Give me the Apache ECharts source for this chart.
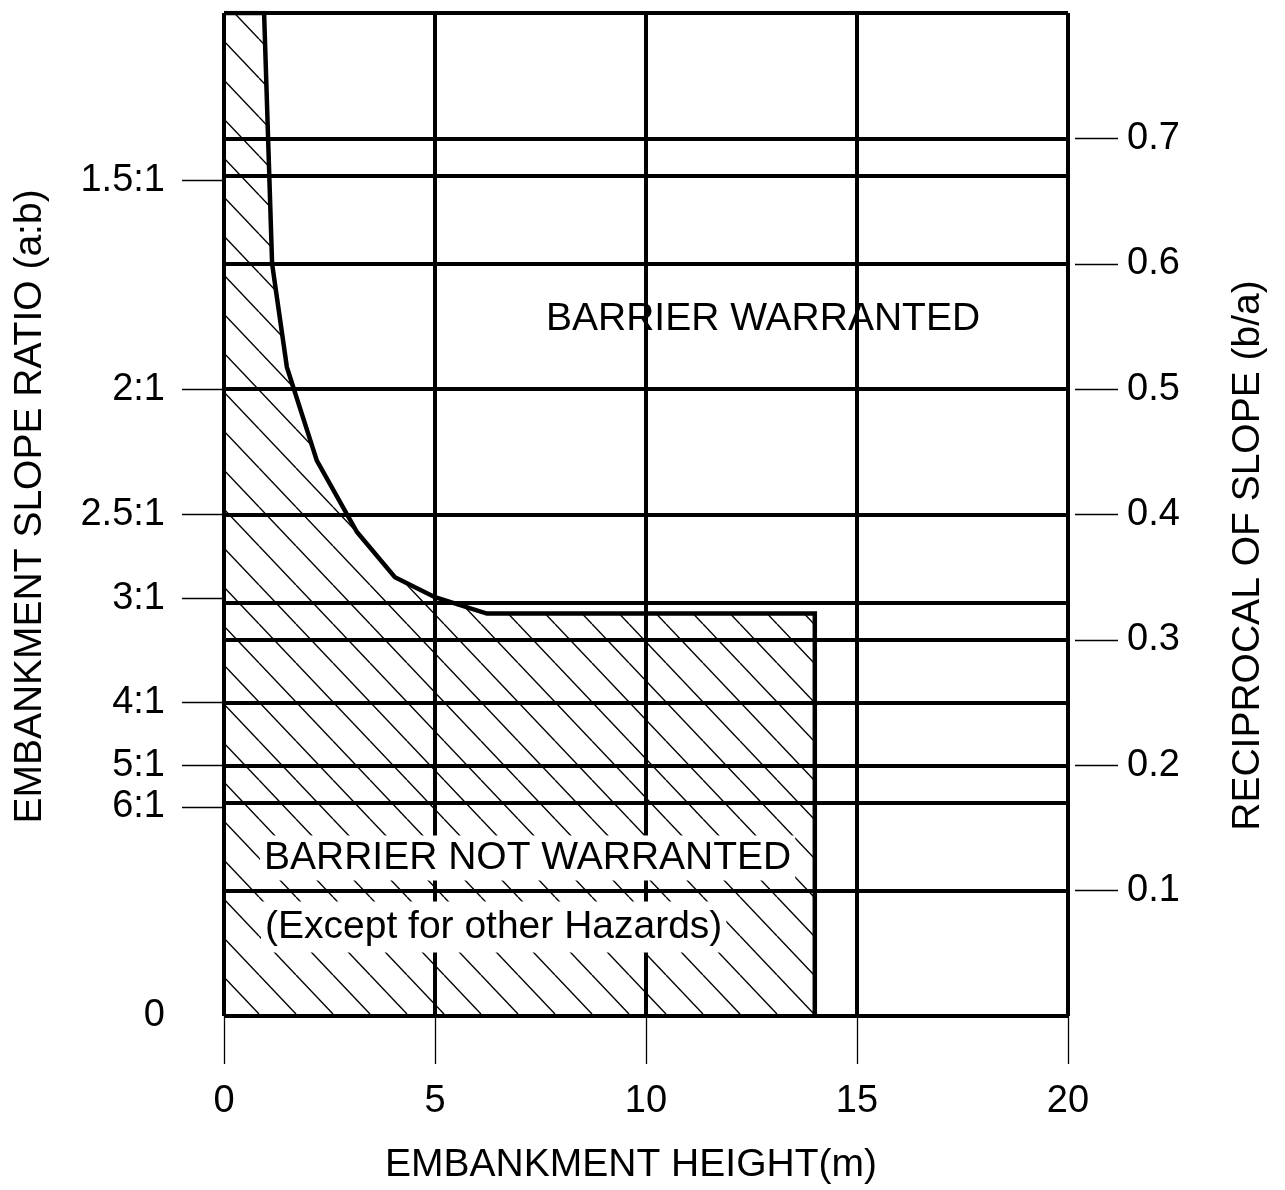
<!DOCTYPE html>
<html>
<head>
<meta charset="utf-8">
<script src="https://cdn.jsdelivr.net/npm/echarts@6/dist/echarts.min.js"></script>
<style>
html,body{margin:0;padding:0;background:#fff;}
#chart{width:1285px;height:1190px;}
</style>
</head>
<body>
<div id="chart"></div>
<script>
// ---- data ----
const heightTicks = [0, 5, 10, 15, 20];
const slopeRatioLabels = ['0', '6:1', '5:1', '4:1', '3:1', '2.5:1', '2:1', '1.5:1'];
const slopeRatioValues = [0, 0.1667, 0.2, 0.25, 0.3333, 0.4, 0.5, 0.6667];
const reciprocalTicks = [0.1, 0.2, 0.3, 0.4, 0.5, 0.6, 0.7];
// boundary of the "not warranted" zone (embankment height m, reciprocal of slope b/a)
const boundaryHeight = [0, 0.95, 1.14, 1.49, 2.2, 3.15, 4.05, 5.0, 6.23, 14, 14];
const boundaryRecip  = [0.8, 0.8, 0.6, 0.5175, 0.443, 0.386, 0.35, 0.334, 0.321, 0.321, 0];
const regionLabels = ['BARRIER WARRANTED', 'BARRIER NOT WARRANTED', '(Except for other Hazards)'];

const FONT = '"Liberation Sans", Arial, Helvetica, sans-serif';

// hatch pattern
function makeHatch() {
  const W = 37, H = 39;
  const c = document.createElement('canvas');
  c.width = W; c.height = H;
  const ctx = c.getContext('2d');
  ctx.strokeStyle = '#000';
  ctx.lineWidth = 1.4;
  for (const dx of [-W, 0, W]) {
    ctx.beginPath();
    ctx.moveTo(dx, 0);
    ctx.lineTo(dx + W, H);
    ctx.stroke();
  }
  return c;
}

const chart = echarts.init(document.getElementById('chart'), null, {renderer: 'canvas'});

const boundaryData = boundaryHeight.map((h, i) => [h, boundaryRecip[i]]);

function slopeLabel(v) {
  for (let i = 0; i < slopeRatioValues.length; i++) {
    if (Math.abs(slopeRatioValues[i] - v) < 1e-3) return slopeRatioLabels[i];
  }
  return '';
}

const tickLine = {color: '#000', width: 1.3};
const labelStyle = {fontSize: 38, color: '#000', fontFamily: FONT};
const gridLine = {color: '#000', width: 4};

const option = {
  animation: false,
  backgroundColor: '#fff',
  grid: {left: 224, right: 217, top: 13, bottom: 174},
  xAxis: {
    type: 'value', min: 0, max: 20, interval: 5,
    offset: 9,
    axisLine: {show: false},
    axisTick: {show: true, length: 48, lineStyle: tickLine},
    axisLabel: Object.assign({margin: 58}, labelStyle),
    splitLine: {show: true, lineStyle: gridLine},
    name: 'EMBANKMENT HEIGHT(m)',
    nameLocation: 'middle',
    nameGap: 121,
    nameTextStyle: {fontSize: 39, color: '#000', fontFamily: FONT, padding: [0, 30, 0, 0]}
  },
  yAxis: [
    {
      type: 'value', position: 'left', min: 0, max: 0.8, interval: 0.1,
      offset: 9,
      axisLine: {show: false},
      axisTick: {show: true, length: 42, lineStyle: tickLine, customValues: slopeRatioValues.slice(1)},
      axisLabel: Object.assign({margin: 50, customValues: slopeRatioValues, formatter: slopeLabel}, labelStyle),
      splitLine: {show: false},
      name: 'EMBANKMENT SLOPE RATIO (a:b)',
      nameLocation: 'middle',
      nameGap: 165,
      nameRotate: 90,
      nameTextStyle: {fontSize: 39, color: '#000', fontFamily: FONT, padding: [0, 0, 0, 16]}
    },
    {
      type: 'value', position: 'right', min: 0, max: 0.8, interval: 0.1,
      offset: 7,
      axisLine: {show: false},
      axisTick: {show: true, length: 43, lineStyle: tickLine, customValues: reciprocalTicks},
      axisLabel: Object.assign({margin: 52, customValues: reciprocalTicks, formatter: v => v.toFixed(1)}, labelStyle),
      splitLine: {show: false},
      name: 'RECIPROCAL OF SLOPE (b/a)',
      nameLocation: 'middle',
      nameGap: 154,
      nameRotate: 90,
      nameTextStyle: {fontSize: 39, color: '#000', fontFamily: FONT, padding: [0, 82, 0, 0]}
    },
    {
      type: 'value', position: 'right', min: 0, max: 0.8, interval: 0.1,
      axisLine: {show: false},
      axisTick: {show: false},
      axisLabel: {show: false},
      splitLine: {show: true, lineStyle: gridLine}
    }
  ],
  series: [
    {
      type: 'line',
      xAxisIndex: 0,
      yAxisIndex: 0,
      data: boundaryData,
      symbol: 'none',
      z: 3,
      lineStyle: {color: '#000', width: 4.5, join: 'miter'},
      areaStyle: {color: {image: makeHatch(), repeat: 'repeat'}, opacity: 1},
      markLine: {
        silent: true,
        symbol: 'none',
        label: {show: false},
        lineStyle: {color: '#000', width: 4, type: 'solid'},
        data: slopeRatioValues.slice(1).map(v => ({yAxis: v}))
      }
    }
  ],
  graphic: [
    {
      type: 'text', z: 100, x: 546, y: 319,
      style: {text: regionLabels[0], fontSize: 39, fontFamily: FONT, fill: '#000', align: 'left', verticalAlign: 'middle'}
    },
    {
      type: 'text', z: 100, x: 260, y: 858,
      style: {text: regionLabels[1], fontSize: 39, fontFamily: FONT, fill: '#000', align: 'left', verticalAlign: 'middle',
              backgroundColor: '#fff', padding: [4, 4, 2, 4]}
    },
    {
      type: 'text', z: 100, x: 261, y: 927,
      style: {text: regionLabels[2], fontSize: 39, fontFamily: FONT, fill: '#000', align: 'left', verticalAlign: 'middle',
              backgroundColor: '#fff', padding: [6, 4, 6, 4]}
    }
  ]
};

chart.setOption(option);
</script>
</body>
</html>
